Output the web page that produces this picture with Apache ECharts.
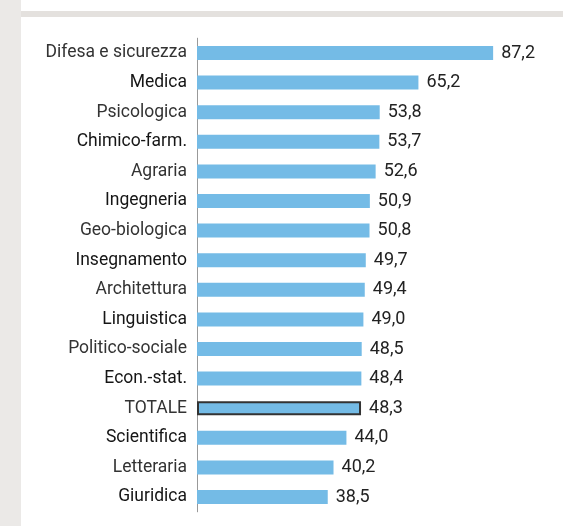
<!DOCTYPE html>
<html><head><meta charset="utf-8">
<script src="https://cdn.jsdelivr.net/npm/echarts@6/dist/echarts.min.js"></script>
<style>html,body{margin:0;padding:0;background:#fff}#c{width:563px;height:526px}</style>
</head><body><div id="c"></div>
<script>
const categories = ["Difesa e sicurezza","Medica","Psicologica","Chimico-farm.","Agraria","Ingegneria","Geo-biologica","Insegnamento","Architettura","Linguistica","Politico-sociale","Econ.-stat.","TOTALE","Scientifica","Letteraria","Giuridica"];
const values = [87.2,65.2,53.8,53.7,52.6,50.9,50.8,49.7,49.4,49.0,48.5,48.4,48.3,44.0,40.2,38.5];
const highlight = "TOTALE";

const chart = echarts.init(document.getElementById('c'));
const data = values.map((v,i)=>({
  value: v,
  itemStyle: categories[i]===highlight ? {borderColor:'#333',borderWidth:2} : {}
}));
chart.setOption({
  animation:false,
  graphic:[
    {type:'rect',shape:{x:0,y:0,width:21,height:526},style:{fill:'#ebe9e7'},z:-10},
    {type:'rect',shape:{x:21,y:11,width:542,height:6},style:{fill:'#e4e1de'},z:-10}
  ],
  grid:{left:197,right:26.4,top:38.2,bottom:14.2,containLabel:false},
  xAxis:{type:'value',min:0,max:100,show:false},
  yAxis:{type:'category',data:categories,inverse:true,
    axisLine:{show:true,lineStyle:{color:'#999',width:1}},
    axisTick:{show:false},
    axisLabel:{margin:10,fontFamily:'Roboto',fontSize:17.5,
      color:function(v,i){return i%2? '#151515':'#333';}}
  },
  series:[{type:'bar',data:data,barWidth:14,
    itemStyle:{color:'#74bbe6'},
    label:{show:true,position:'right',distance:8,fontFamily:'Roboto',fontSize:18,color:'#222',
      formatter:p=>p.value.toFixed(1).replace('.',',')}
  }]
});
</script></body></html>
